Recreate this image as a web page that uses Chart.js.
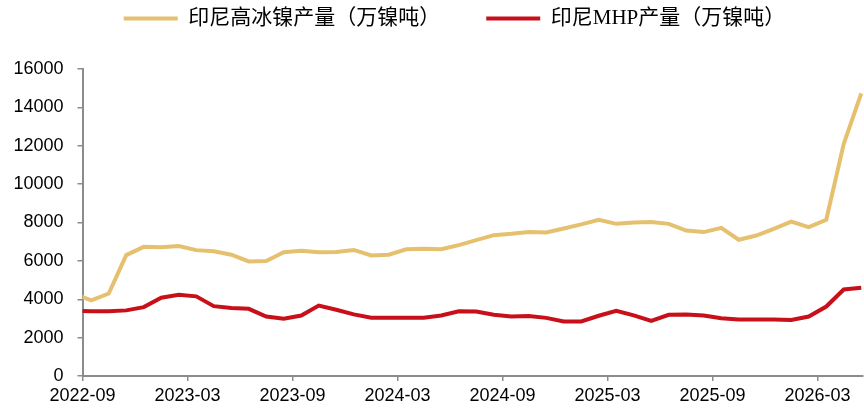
<!DOCTYPE html>
<html>
<head>
<meta charset="utf-8">
<title>印尼高冰镍与MHP产量</title>
<script src="https://cdn.jsdelivr.net/npm/chart.js@4.4.1/dist/chart.umd.min.js"></script>
<style>
  html, body { margin: 0; padding: 0; background: #fff; }
  #wrap { width: 864px; height: 408px; }
</style>
</head>
<body>
<div id="wrap"><canvas id="lineChart" width="864" height="408"></canvas></div>
<script>
// monthly data, 2022-08 (clipped at the axis) to 2026-05
const months = [
  "2022-08", "2022-09", "2022-10", "2022-11", "2022-12",
  "2023-01", "2023-02", "2023-03", "2023-04", "2023-05", "2023-06",
  "2023-07", "2023-08", "2023-09", "2023-10", "2023-11", "2023-12",
  "2024-01", "2024-02", "2024-03", "2024-04", "2024-05", "2024-06",
  "2024-07", "2024-08", "2024-09", "2024-10", "2024-11", "2024-12",
  "2025-01", "2025-02", "2025-03", "2025-04", "2025-05", "2025-06",
  "2025-07", "2025-08", "2025-09", "2025-10", "2025-11", "2025-12",
  "2026-01", "2026-02", "2026-03", "2026-04", "2026-05"
];

const nickelMatte = [
  4280, 3940, 4300, 6300, 6730,
  6710, 6770, 6560, 6500, 6320, 5970,
  5990, 6450, 6530, 6450, 6460, 6570,
  6280, 6320, 6600, 6630, 6610, 6820,
  7080, 7340, 7410, 7510, 7480, 7690,
  7900, 8140, 7930, 8000, 8030, 7930,
  7580, 7500, 7720, 7100, 7320, 7670,
  8050, 7760, 8140, 12100, 14730
];

const mhp = [
  3400, 3370, 3370, 3420, 3590,
  4080, 4230, 4150, 3640, 3540, 3500,
  3100, 2980, 3150, 3670, 3450, 3210,
  3040, 3040, 3040, 3040, 3150, 3370,
  3360, 3190, 3100, 3130, 3030, 2840,
  2840, 3140, 3400, 3160, 2870, 3190,
  3210, 3150, 3010, 2950, 2950, 2940,
  2920, 3100, 3620, 4510, 4600
];

const tickLabels = ["2022-09", "2023-03", "2023-09", "2024-03", "2024-09", "2025-03", "2025-09", "2026-03"];
const yTicks = [0, 2000, 4000, 6000, 8000, 10000, 12000, 14000, 16000];

// x is counted in months from the start of 2022-09, points sit mid-month
function toPoints(values) {
  return values.map(function(v, i) {
    return { x: i - 0.5, y: v };
  });
}

const axisGrey = "#8c8c8c";
const tickFont = { family: "'Liberation Sans', Arial, sans-serif", size: 18 };

// legend needs a taller box than Chart.js gives it, and sits a bit right of centre
const legendFit = {
  id: "legendFit",
  beforeInit(chart) {
    const fit = chart.legend.fit;
    chart.legend.fit = function() {
      fit.call(this);
      this.height = 107;
    };
  },
  afterLayout(chart) {
    chart.legend.left += 46;
  }
};

new Chart(document.getElementById("lineChart"), {
  type: "line",
  data: {
    datasets: [{
      label: "印尼高冰镍产量（万镍吨）",
      data: toPoints(nickelMatte),
      borderColor: "#e5c06e",
      backgroundColor: "#e5c06e",
      borderWidth: 4,
      pointRadius: 0,
      tension: 0,
      clip: 0
    }, {
      label: "印尼MHP产量（万镍吨）",
      data: toPoints(mhp),
      borderColor: "#c8101a",
      backgroundColor: "#c8101a",
      borderWidth: 4,
      pointRadius: 0,
      tension: 0,
      clip: 0
    }]
  },
  options: {
    responsive: false,
    animation: false,
    devicePixelRatio: 1,
    layout: {
      padding: { top: -38, left: 0, right: 1, bottom: 0 }
    },
    plugins: {
      tooltip: { enabled: false },
      legend: {
        position: "top",
        labels: {
          usePointStyle: true,
          pointStyle: "line",
          pointStyleWidth: 54,
          padding: 46,
          color: "#000",
          font: { family: "'Liberation Serif', 'Noto Sans CJK SC', serif", size: 21 }
        }
      }
    },
    scales: {
      x: {
        type: "linear",
        min: 0,
        max: 44.6,
        afterBuildTicks: function(axis) {
          axis.ticks = tickLabels.map(function(t, i) { return { value: i * 6 }; });
        },
        afterFit: function(axis) { axis.height = 32; },
        ticks: {
          autoSkip: false,
          maxRotation: 0,
          padding: 4,
          color: "#000",
          font: tickFont,
          callback: function(v) { return tickLabels[v / 6]; }
        },
        grid: { drawOnChartArea: false, drawTicks: true, tickLength: 5, color: axisGrey, lineWidth: 1.5 },
        border: { display: true, color: axisGrey, width: 2 }
      },
      y: {
        min: 0,
        max: 16000,
        afterBuildTicks: function(axis) {
          axis.ticks = yTicks.map(function(v) { return { value: v }; });
        },
        afterFit: function(axis) { axis.width = 82.5; },
        ticks: {
          padding: 14,
          color: "#000",
          font: tickFont,
          callback: function(v) { return String(v); }
        },
        grid: { drawOnChartArea: false, drawTicks: true, tickLength: 5, color: axisGrey, lineWidth: 1.5 },
        border: { display: true, color: axisGrey, width: 2 }
      }
    }
  },
  plugins: [legendFit]
});
</script>
</body>
</html>
